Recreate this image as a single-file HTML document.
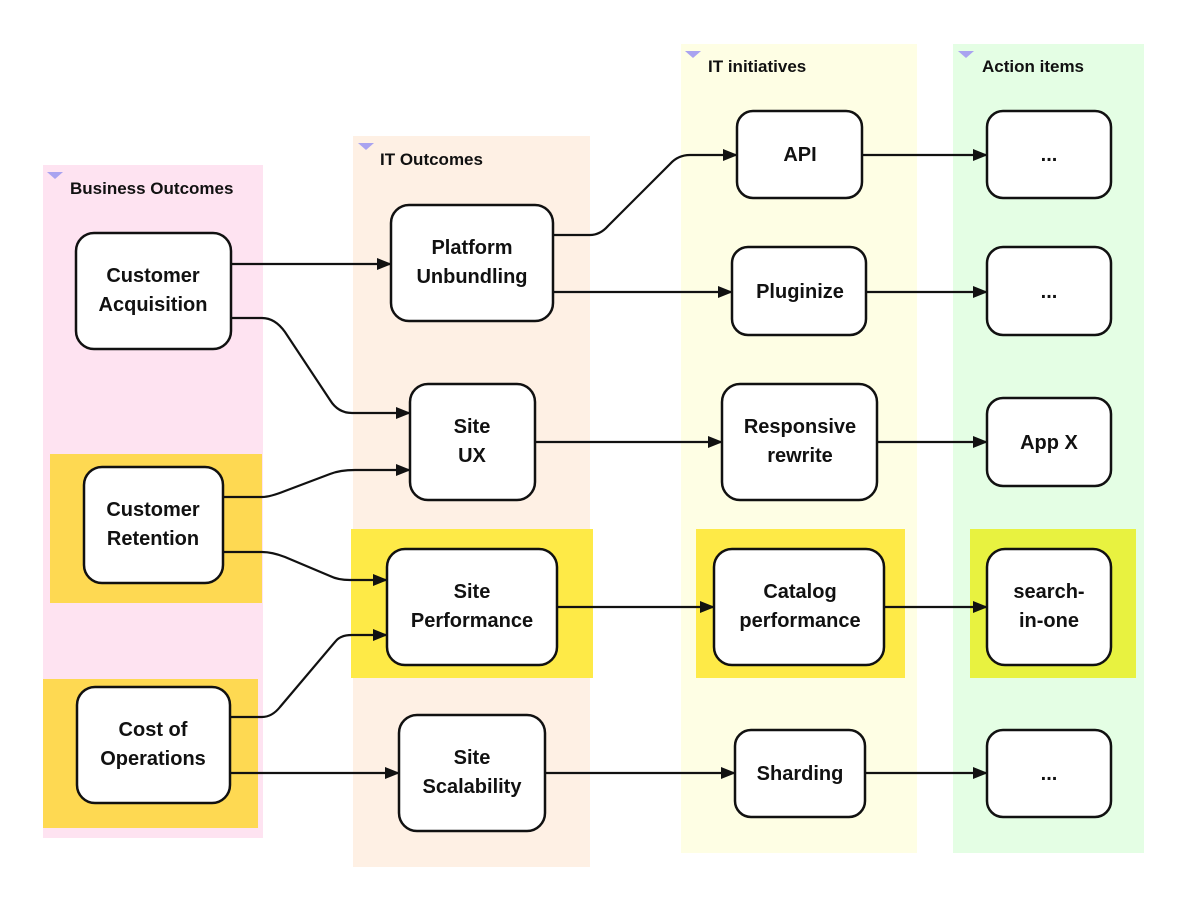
<!DOCTYPE html>
<html><head><meta charset="utf-8"><style>
body{margin:0;background:#fff}
svg{display:block}
.n{fill:#fff;stroke:#111;stroke-width:2.5}
.t{font-family:"Liberation Sans",sans-serif;font-weight:bold;font-size:20px;text-anchor:middle;fill:#111}
.h{font-family:"Liberation Sans",sans-serif;font-weight:bold;font-size:17px;fill:#111}
.e{fill:none;stroke:#111;stroke-width:2.2}
</style></head><body>
<svg width="1188" height="911" viewBox="0 0 1188 911" xmlns="http://www.w3.org/2000/svg">
<defs>
<marker id="a" markerWidth="15" markerHeight="12" refX="14" refY="6" orient="auto" markerUnits="userSpaceOnUse"><path d="M0,0 L15,6 L0,12 z" fill="#111"/></marker>
<clipPath id="c1"><rect x="43" y="165" width="220" height="673"/></clipPath>
</defs>
<rect x="43" y="165" width="220" height="673" fill="#fee3f1"/>
<rect x="353" y="136" width="237" height="731" fill="#fef0e4"/>
<rect x="681" y="44" width="236" height="809" fill="#fefee4"/>
<rect x="953" y="44" width="191" height="809" fill="#e4fee4"/>
<rect x="50" y="454" width="212" height="149" fill="#fed952"/>
<rect x="43" y="679" width="215" height="149" fill="#fed952"/>
<rect x="351" y="529" width="242" height="149" fill="#feea47"/>
<rect x="696" y="529" width="209" height="149" fill="#feea47"/>
<rect x="970" y="529" width="166" height="149" fill="#e8f240"/>
<path d="M47,172 h16 l-8,7 z" fill="#a9a3f0"/>
<path d="M358,143 h16 l-8,7 z" fill="#a9a3f0"/>
<path d="M685,51 h16 l-8,7 z" fill="#a9a3f0"/>
<path d="M958,51 h16 l-8,7 z" fill="#a9a3f0"/>
<text class="h" x="70" y="194" clip-path="url(#c1)">Business Outcomes</text>
<text class="h" x="380" y="165">IT Outcomes</text>
<text class="h" x="708" y="72">IT initiatives</text>
<text class="h" x="982" y="72">Action items</text>
<g marker-end="url(#a)">
<path class="e" d="M231,264 H391"/>
<path class="e" d="M231,318 H262 Q275,318 285,332 L330,400 Q338,413 352,413 H410"/>
<path class="e" d="M223,497 H262 Q270,497 285,491 L330,474 Q340,470 355,470 H410"/>
<path class="e" d="M223,552 H262 Q272,552 285,557 L330,576 Q338,580 350,580 H387"/>
<path class="e" d="M230,717 H262 Q272,717 280,707 L335,642 Q340,635 352,635 H387"/>
<path class="e" d="M230,773 H399"/>
<path class="e" d="M553,235 H590 Q600,235 608,226 L670,164 Q678,155 690,155 H737"/>
<path class="e" d="M553,292 H732"/>
<path class="e" d="M535,442 H722"/>
<path class="e" d="M557,607 H714"/>
<path class="e" d="M545,773 H735"/>
<path class="e" d="M862,155 H987"/>
<path class="e" d="M866,292 H987"/>
<path class="e" d="M877,442 H987"/>
<path class="e" d="M884,607 H987"/>
<path class="e" d="M865,773 H987"/>
</g>
<rect class="n" x="76" y="233" width="155" height="116" rx="18"/>
<text class="t" x="153" y="282">Customer</text><text class="t" x="153" y="311">Acquisition</text>
<rect class="n" x="84" y="467" width="139" height="116" rx="18"/>
<text class="t" x="153" y="516">Customer</text><text class="t" x="153" y="545">Retention</text>
<rect class="n" x="77" y="687" width="153" height="116" rx="18"/>
<text class="t" x="153" y="736">Cost of</text><text class="t" x="153" y="765">Operations</text>
<rect class="n" x="391" y="205" width="162" height="116" rx="18"/>
<text class="t" x="472" y="254">Platform</text><text class="t" x="472" y="283">Unbundling</text>
<rect class="n" x="410" y="384" width="125" height="116" rx="18"/>
<text class="t" x="472" y="433">Site</text><text class="t" x="472" y="462">UX</text>
<rect class="n" x="387" y="549" width="170" height="116" rx="18"/>
<text class="t" x="472" y="598">Site</text><text class="t" x="472" y="627">Performance</text>
<rect class="n" x="399" y="715" width="146" height="116" rx="18"/>
<text class="t" x="472" y="764">Site</text><text class="t" x="472" y="793">Scalability</text>
<rect class="n" x="737" y="111" width="125" height="87" rx="16"/>
<text class="t" x="800" y="161">API</text>
<rect class="n" x="732" y="247" width="134" height="88" rx="16"/>
<text class="t" x="800" y="298">Pluginize</text>
<rect class="n" x="722" y="384" width="155" height="116" rx="18"/>
<text class="t" x="800" y="433">Responsive</text><text class="t" x="800" y="462">rewrite</text>
<rect class="n" x="714" y="549" width="170" height="116" rx="18"/>
<text class="t" x="800" y="598">Catalog</text><text class="t" x="800" y="627">performance</text>
<rect class="n" x="735" y="730" width="130" height="87" rx="16"/>
<text class="t" x="800" y="780">Sharding</text>
<rect class="n" x="987" y="111" width="124" height="87" rx="16"/>
<text class="t" x="1049" y="161">...</text>
<rect class="n" x="987" y="247" width="124" height="88" rx="16"/>
<text class="t" x="1049" y="298">...</text>
<rect class="n" x="987" y="398" width="124" height="88" rx="16"/>
<text class="t" x="1049" y="449">App X</text>
<rect class="n" x="987" y="549" width="124" height="116" rx="18"/>
<text class="t" x="1049" y="598">search-</text><text class="t" x="1049" y="627">in-one</text>
<rect class="n" x="987" y="730" width="124" height="87" rx="16"/>
<text class="t" x="1049" y="780">...</text>
</svg>
</body></html>
